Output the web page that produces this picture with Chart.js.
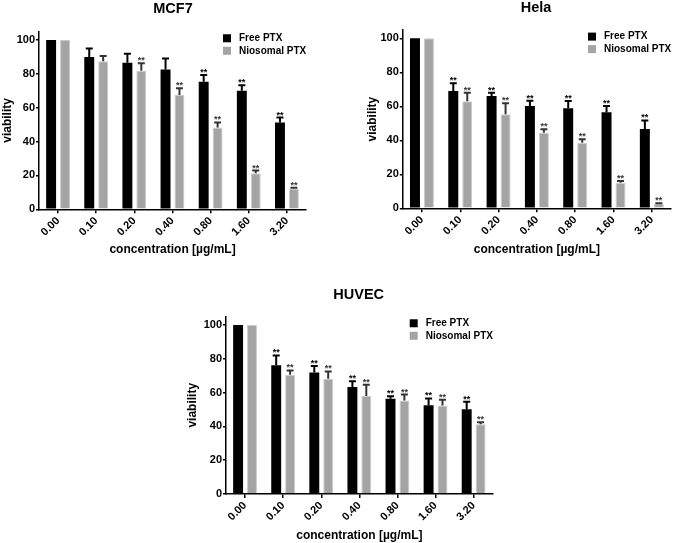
<!DOCTYPE html>
<html lang="en">
<head>
  <meta charset="UTF-8">
  <title>Cell viability</title>
  <script src="https://cdn.jsdelivr.net/npm/chart.js"></script>
  <style>
    html, body { margin: 0; padding: 0; background: #fff; }
    body { width: 673px; height: 543px; position: relative; overflow: hidden; }
    canvas { position: absolute; }
  </style>
</head>
<body>
  <canvas id="mcf7" width="346" height="262" style="left:0;top:0"></canvas>
  <canvas id="hela" width="337" height="262" style="left:336px;top:0"></canvas>
  <canvas id="huvec" width="346" height="273" style="left:170px;top:270px"></canvas>

  <script>
    // data (mean viability and upper error)
    const categories = ['0.00', '0.10', '0.20', '0.40', '0.80', '1.60', '3.20'];
    const seriesNames = ['Free PTX', 'Niosomal PTX'];
    const yTicks = [0, 20, 40, 60, 80, 100];

    const mcf7Free = [100, 90, 86.5, 82.5, 75.3, 70, 51.2];
    const mcf7FreeErr = [0, 5, 5.3, 6.5, 4, 3.2, 3];
    const mcf7Nio = [100, 87.5, 81.8, 67.5, 48.3, 21.3, 12.2];
    const mcf7NioErr = [0, 3, 4.4, 4, 3, 1.6, 0.6];
    const mcf7FreeSig = ['', '', '', '', '**', '**', '**'];
    const mcf7NioSig = ['', '', '**', '**', '**', '**', '**'];

    const helaFree = [100, 69, 66, 60.2, 58.8, 56.5, 46.7];
    const helaFreeErr = [0, 4.5, 2, 3, 4.3, 3.7, 5];
    const helaNio = [100, 63, 55.3, 44.5, 38.6, 15, 2.5];
    const helaNioErr = [0, 5, 6.5, 2, 2, 1, 0.5];
    const helaFreeSig = ['', '**', '**', '**', '**', '**', '**'];
    const helaNioSig = ['', '**', '**', '**', '**', '**', '**'];

    const huvecFree = [100, 76.1, 71.8, 63.3, 56.3, 52.5, 50.2];
    const huvecFreeErr = [0, 5.9, 3.9, 3.4, 1.5, 4, 4.3];
    const huvecNio = [100, 70.6, 68.2, 58, 55.3, 52.3, 41.2];
    const huvecNioErr = [0, 2.5, 4.3, 6.7, 3.5, 3.5, 1.2];
    const huvecFreeSig = ['', '**', '**', '**', '**', '**', '**'];
    const huvecNioSig = ['', '**', '**', '**', '**', '**', '**'];

    const FONT = '"Liberation Sans", Arial, sans-serif';
    Chart.defaults.font.family = FONT;
    Chart.defaults.font.weight = 'bold';
    Chart.defaults.color = '#000';

    const BLACK = '#000000';
    const GREY = '#a4a4a4';
    const GREY_EDGE = '#cbcbcb';

    // error bars, ** marks, title and the legend inside the plot
    const extras = {
      id: 'extras',
      afterDatasetsDraw(chart) {
        const ctx = chart.ctx;
        const y = chart.scales.y;
        chart.data.datasets.forEach((ds, i) => {
          chart.getDatasetMeta(i).data.forEach((bar, j) => {
            const err = ds.errors[j];
            const top = y.getPixelForValue(ds.data[j] + err);
            ctx.save();
            if (err > 0) {
              ctx.strokeStyle = ds.errColor;
              ctx.lineWidth = 2;
              ctx.beginPath();
              ctx.moveTo(bar.x, bar.y);
              ctx.lineTo(bar.x, top);
              ctx.moveTo(bar.x - 3.5, top);
              ctx.lineTo(bar.x + 3.5, top);
              ctx.stroke();
            }
            if (ds.stars[j]) {
              ctx.fillStyle = ds.errColor;
              ctx.font = 'bold 9px ' + FONT;
              ctx.textAlign = 'center';
              ctx.textBaseline = 'bottom';
              ctx.fillText(ds.stars[j], bar.x, top + 2);
            }
            ctx.restore();
          });
        });
      },
      afterDraw(chart, args, opts) {
        const ctx = chart.ctx;
        const area = chart.chartArea;
        ctx.save();
        ctx.fillStyle = '#000';
        ctx.font = 'bold 14.5px ' + FONT;
        ctx.textAlign = 'center';
        ctx.textBaseline = 'middle';
        ctx.fillText(opts.title, opts.titleX, opts.titleY);

        const y0 = chart.scales.y.getPixelForValue(101);
        const left = area.right - 83;
        ctx.font = 'bold 10px ' + FONT;
        ctx.textAlign = 'left';
        chart.data.datasets.forEach((ds, i) => {
          const cy = y0 + i * 12.5;
          ctx.fillStyle = ds.backgroundColor;
          ctx.fillRect(left, cy - 4, 8, 8);
          ctx.fillStyle = '#000';
          ctx.fillText(ds.label, left + 16, cy);
        });
        ctx.restore();
      }
    };

    function makeChart(id, g, free, freeErr, freeSig, nio, nioErr, nioSig) {
      return new Chart(document.getElementById(id), {
        type: 'bar',
        data: {
          labels: categories,
          datasets: [{
            label: seriesNames[0],
            data: free,
            errors: freeErr,
            stars: freeSig,
            errColor: '#000',
            backgroundColor: BLACK,
            borderWidth: 0,
            categoryPercentage: 0.73,
            barPercentage: 0.714
          }, {
            label: seriesNames[1],
            data: nio,
            errors: nioErr,
            stars: nioSig,
            errColor: '#333',
            backgroundColor: GREY,
            borderColor: GREY_EDGE,
            borderWidth: 1,
            categoryPercentage: 0.73,
            barPercentage: 0.714
          }]
        },
        options: {
          responsive: false,
          animation: false,
          layout: {
            padding: { top: g.top, left: g.left, right: g.right, bottom: g.bottom }
          },
          plugins: {
            legend: { display: false },
            tooltip: { enabled: false },
            extras: { title: g.title, titleX: g.titleX, titleY: g.titleY }
          },
          scales: {
            x: {
              offset: true,
              grid: {
                offset: false, drawOnChartArea: false, drawTicks: true,
                tickLength: 4, color: '#000', lineWidth: 1.5
              },
              border: { display: true, color: '#000', width: 1.5 },
              ticks: {
                minRotation: 45, maxRotation: 45, padding: 1,
                font: { size: 11, weight: 'bold' }, color: '#000'
              },
              title: {
                display: true, text: 'concentration [µg/mL]',
                font: { size: 12, weight: 'bold' }, color: '#000',
                padding: 0
              },
              afterFit(scale) {
                scale.height = g.xHeight;
                scale.paddingLeft = 0;
                scale.paddingRight = 0;
              }
            },
            y: {
              min: 0,
              max: 105,
              ticks: {
                stepSize: 20, padding: 1,
                font: { size: 11, weight: 'bold' }, color: '#000'
              },
              afterBuildTicks(scale) {
                scale.ticks = yTicks.map(v => ({ value: v }));
              },
              grid: {
                drawOnChartArea: false, drawTicks: true,
                tickLength: 3, color: '#000', lineWidth: 1.5
              },
              border: { display: true, color: '#000', width: 1.5 },
              title: {
                display: true, text: 'viability',
                font: { size: 12, weight: 'bold' }, color: '#000',
                padding: 0
              },
              afterFit(scale) {
                scale.width = g.yWidth;
                scale.paddingTop = 0;
                scale.paddingBottom = 0;
              }
            }
          }
        },
        plugins: [extras]
      });
    }

    makeChart('mcf7', {
      title: 'MCF7', titleX: 173, titleY: 9,
      top: 31.5, left: 0.8, right: 40, bottom: 4.8,
      yWidth: 38.2, xHeight: 47.9
    }, mcf7Free, mcf7FreeErr, mcf7FreeSig, mcf7Nio, mcf7NioErr, mcf7NioSig);

    makeChart('hela', {
      title: 'Hela', titleX: 200, titleY: 7.5,
      top: 29.8, left: 29.5, right: 2, bottom: 5.5,
      yWidth: 37.3, xHeight: 48.2
    }, helaFree, helaFreeErr, helaFreeSig, helaNio, helaNioErr, helaNioSig);

    makeChart('huvec', {
      title: 'HUVEC', titleX: 188.7, titleY: 25,
      top: 46.5, left: 15.8, right: 23.3, bottom: 0,
      yWidth: 40.2, xHeight: 49
    }, huvecFree, huvecFreeErr, huvecFreeSig, huvecNio, huvecNioErr, huvecNioSig);
  </script>
</body>
</html>
